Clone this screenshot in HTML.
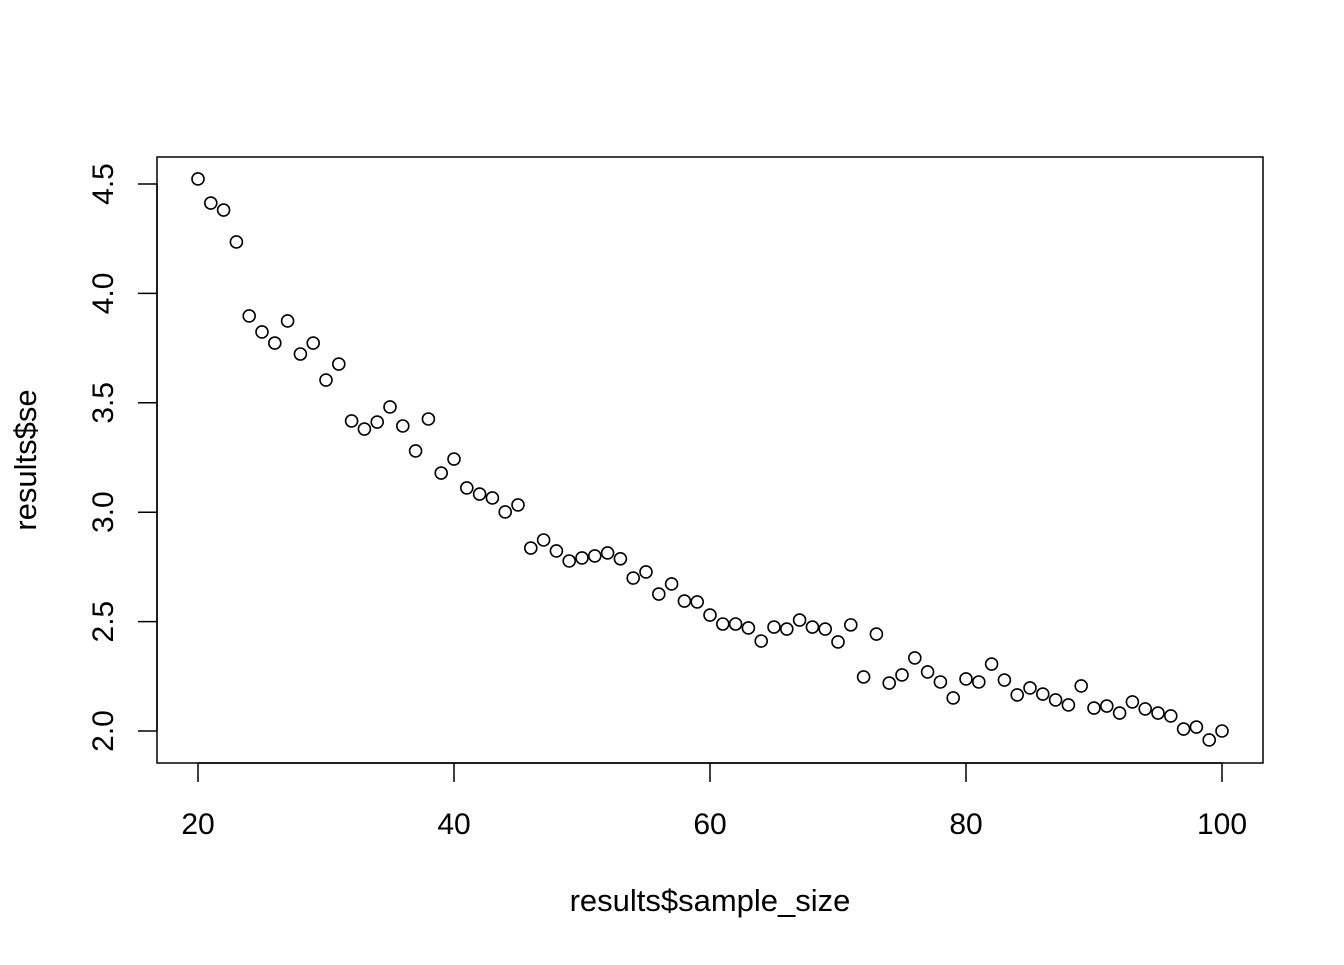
<!DOCTYPE html>
<html><head><meta charset="utf-8"><style>
body{margin:0;background:#fff}
svg text{font-family:"Liberation Sans",Arial,sans-serif;fill:#000}
</style></head><body>
<svg id="chart" width="1344" height="960">
<rect x="157" y="157" width="1106" height="606" fill="none" stroke="#000" stroke-width="1.5"/>
<g id="xaxis"></g>
<g id="yaxis"></g>
<g id="points"></g>
<text x="710" y="911" font-size="31" text-anchor="middle">results$sample_size</text>
<text transform="translate(36,460) rotate(-90)" font-size="31" text-anchor="middle">results$se</text>
</svg>
<script>
const sampleSizes=[20,21,22,23,24,25,26,27,28,29,30,31,32,33,34,35,36,37,38,39,40,41,42,43,44,45,46,47,48,49,50,51,52,53,54,55,56,57,58,59,60,61,62,63,64,65,66,67,68,69,70,71,72,73,74,75,76,77,78,79,80,81,82,83,84,85,86,87,88,89,90,91,92,93,94,95,96,97,98,99,100];
const seValues=[4.523,4.413,4.381,4.235,3.897,3.824,3.773,3.874,3.723,3.773,3.604,3.677,3.417,3.380,3.412,3.481,3.394,3.280,3.426,3.179,3.243,3.111,3.083,3.065,3.001,3.033,2.836,2.873,2.823,2.777,2.791,2.800,2.814,2.787,2.699,2.727,2.626,2.672,2.594,2.590,2.530,2.489,2.489,2.471,2.411,2.475,2.466,2.507,2.475,2.466,2.407,2.485,2.247,2.443,2.219,2.256,2.334,2.270,2.224,2.151,2.238,2.224,2.306,2.233,2.165,2.197,2.169,2.142,2.119,2.206,2.105,2.114,2.082,2.133,2.101,2.082,2.069,2.009,2.018,1.959,2.000];
const xTicks=[20,40,60,80,100];
const yTicks=[2.0,2.5,3.0,3.5,4.0,4.5];
const yTickLabels=["2.0","2.5","3.0","3.5","4.0","4.5"];
const NS="http://www.w3.org/2000/svg";
const xs=v=>198+(v-20)*12.8;
const ys=v=>731-(v-2)*218.8;
function mk(tag,attrs,parent){const e=document.createElementNS(NS,tag);for(const k in attrs)e.setAttribute(k,attrs[k]);parent.appendChild(e);return e;}
const xa=document.getElementById('xaxis'),ya=document.getElementById('yaxis'),pg=document.getElementById('points');
mk('line',{x1:xs(20),x2:xs(100),y1:763,y2:763,stroke:'#000','stroke-width':1.5},xa);
xTicks.forEach(t=>{
 const l=mk('line',{x1:xs(t),x2:xs(t),y1:763,y2:782,stroke:'#000','stroke-width':1.5},xa);
 
 
 const tx=mk('text',{x:xs(t),y:834,'font-size':30,'text-anchor':'middle'},xa);tx.textContent=t;
 
 
});
mk('line',{x1:157,x2:157,y1:ys(2),y2:ys(4.5),stroke:'#000','stroke-width':1.5},ya);
yTicks.forEach((t,i)=>{
 const l=mk('line',{x1:138,x2:157,y1:ys(t),y2:ys(t),stroke:'#000','stroke-width':1.5},ya);
 
 
 const tx=mk('text',{transform:`translate(113,${ys(t)}) rotate(-90)`,'font-size':30,'text-anchor':'middle'},ya);tx.textContent=yTickLabels[i];
 
 
});
sampleSizes.forEach((s,i)=>{
 const c=mk('circle',{cx:xs(s),cy:ys(seValues[i]),r:6,fill:'none',stroke:'#000','stroke-width':1.6},pg);
 
 
});
</script>
</body></html>
